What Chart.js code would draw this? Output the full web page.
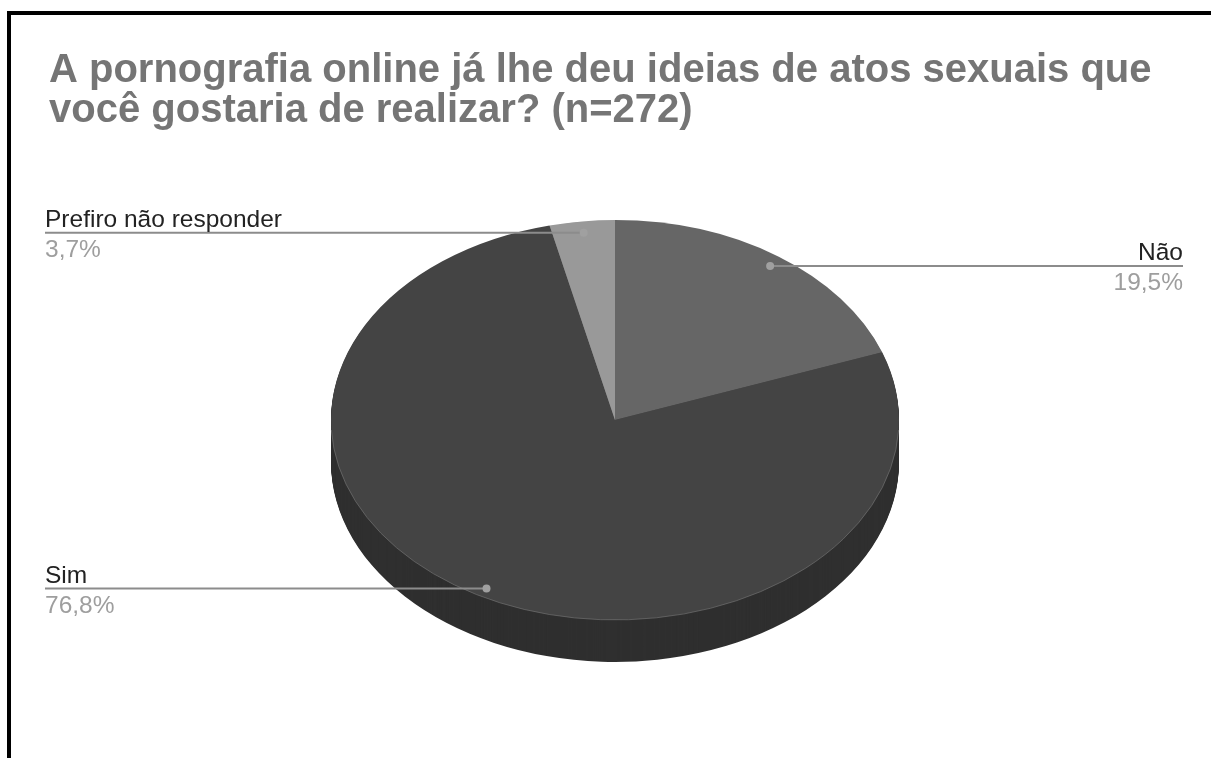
<!DOCTYPE html>
<html>
<head>
<meta charset="utf-8">
<script src="https://cdn.jsdelivr.net/npm/chart.js@4.4.1/dist/chart.umd.min.js"></script>
<style>
  html, body { margin: 0; padding: 0; background: #fff; }
  #wrap { position: absolute; left: 0; top: 0; width: 1211px; height: 758px; overflow: hidden; }
  #frame {
    position: absolute; left: 7px; top: 11px; width: 1300px; height: 900px;
    border: 4px solid #000; pointer-events: none;
  }
</style>
</head>
<body>
<div id="wrap">
  <canvas id="pie" width="1211" height="758"></canvas>
  <div id="frame"></div>
</div>
<script>
/* ---------- data ---------- */
const titleLines = [
  "A pornografia online já lhe deu ideias de atos sexuais que",
  "você gostaria de realizar? (n=272)"
];
const categories = ["Não", "Sim", "Prefiro não responder"];
const shares = [19.5, 76.8, 3.7];
const topColors = ["#666666", "#444444", "#999999"];
const sideColors = ["#4a4a4a", "#2f2f2f", "#707070"];

/* ---------- 3d look ---------- */
const tilt = 0.704;   // vertical squash of the pie
const depth = 42;     // thickness in px
const font = '"Liberation Sans", Arial, sans-serif';

const fmt = v => v.toFixed(1).replace(".", ",") + "%";

const pie3d = {
  id: "pie3d",
  beforeDatasetsDraw(chart) {
    const ctx = chart.ctx;
    const arcs = chart.getDatasetMeta(0).data;
    const cx = arcs[0].x, cy = arcs[0].y;

    // side wall: stack of darker slices below the top face
    ctx.save();
    ctx.translate(cx, cy);
    ctx.scale(1, tilt);
    ctx.translate(-cx, -cy);
    for (let d = depth; d > 0; d -= 1) {
      const oy = cy + d / tilt;
      arcs.forEach((arc, i) => {
        ctx.fillStyle = sideColors[i];
        ctx.beginPath();
        ctx.moveTo(cx, oy);
        ctx.arc(cx, oy, arc.outerRadius, arc.startAngle, arc.endAngle);
        ctx.closePath();
        ctx.fill();
      });
    }
    ctx.restore();

    // squash the top face drawn by chart.js
    ctx.save();
    ctx.translate(cx, cy);
    ctx.scale(1, tilt);
    ctx.translate(-cx, -cy);
  },
  afterDatasetsDraw(chart) {
    const ctx = chart.ctx;
    ctx.restore();

    const arcs = chart.getDatasetMeta(0).data;
    const area = chart.chartArea;

    // faint rim on the front edge
    const a0 = arcs[0];
    ctx.save();
    ctx.strokeStyle = "rgba(120,120,120,0.6)";
    ctx.lineWidth = 1;
    ctx.beginPath();
    ctx.ellipse(a0.x, a0.y, a0.outerRadius, a0.outerRadius * tilt, 0, 0.05, Math.PI - 0.05);
    ctx.stroke();
    ctx.restore();

    // callouts
    arcs.forEach((arc, i) => {
      const mid = (arc.startAngle + arc.endAngle) / 2;
      const px = arc.x + Math.cos(mid) * arc.outerRadius * 0.95;
      const py = arc.y + Math.sin(mid) * arc.outerRadius * 0.95 * tilt + 1.5;
      const right = Math.cos(mid) >= 0;
      const ex = right ? area.right + 2 : area.left - 4;

      ctx.save();
      ctx.strokeStyle = "#8c8c8c";
      ctx.lineWidth = 2;
      ctx.beginPath();
      ctx.moveTo(px, py);
      ctx.lineTo(ex, py);
      ctx.stroke();

      ctx.fillStyle = "#a0a0a0";
      ctx.beginPath();
      ctx.arc(px, py, 4, 0, Math.PI * 2);
      ctx.fill();

      ctx.textAlign = right ? "right" : "left";
      ctx.textBaseline = "alphabetic";
      ctx.font = "24.5px " + font;
      ctx.fillStyle = "#222222";
      ctx.fillText(categories[i], ex, py - 6);
      ctx.fillStyle = "#9e9e9e";
      ctx.fillText(fmt(shares[i]), ex, py + 24);
      ctx.restore();
    });
  }
};

new Chart(document.getElementById("pie"), {
  type: "pie",
  data: {
    labels: categories,
    datasets: [{
      data: shares,
      backgroundColor: topColors,
      borderWidth: 0,
      clip: false
    }]
  },
  options: {
    responsive: false,
    maintainAspectRatio: false,
    animation: false,
    events: [],
    layout: { padding: { left: 49, right: 30, top: 0, bottom: 54 } },
    plugins: {
      legend: { display: false },
      tooltip: { enabled: false },
      title: {
        display: true,
        text: titleLines,
        align: "start",
        color: "#757575",
        font: { family: font, size: 40, weight: "bold", lineHeight: 1.0 },
        padding: { top: 51, bottom: 5 }
      }
    }
  },
  plugins: [pie3d]
});
</script>
</body>
</html>
